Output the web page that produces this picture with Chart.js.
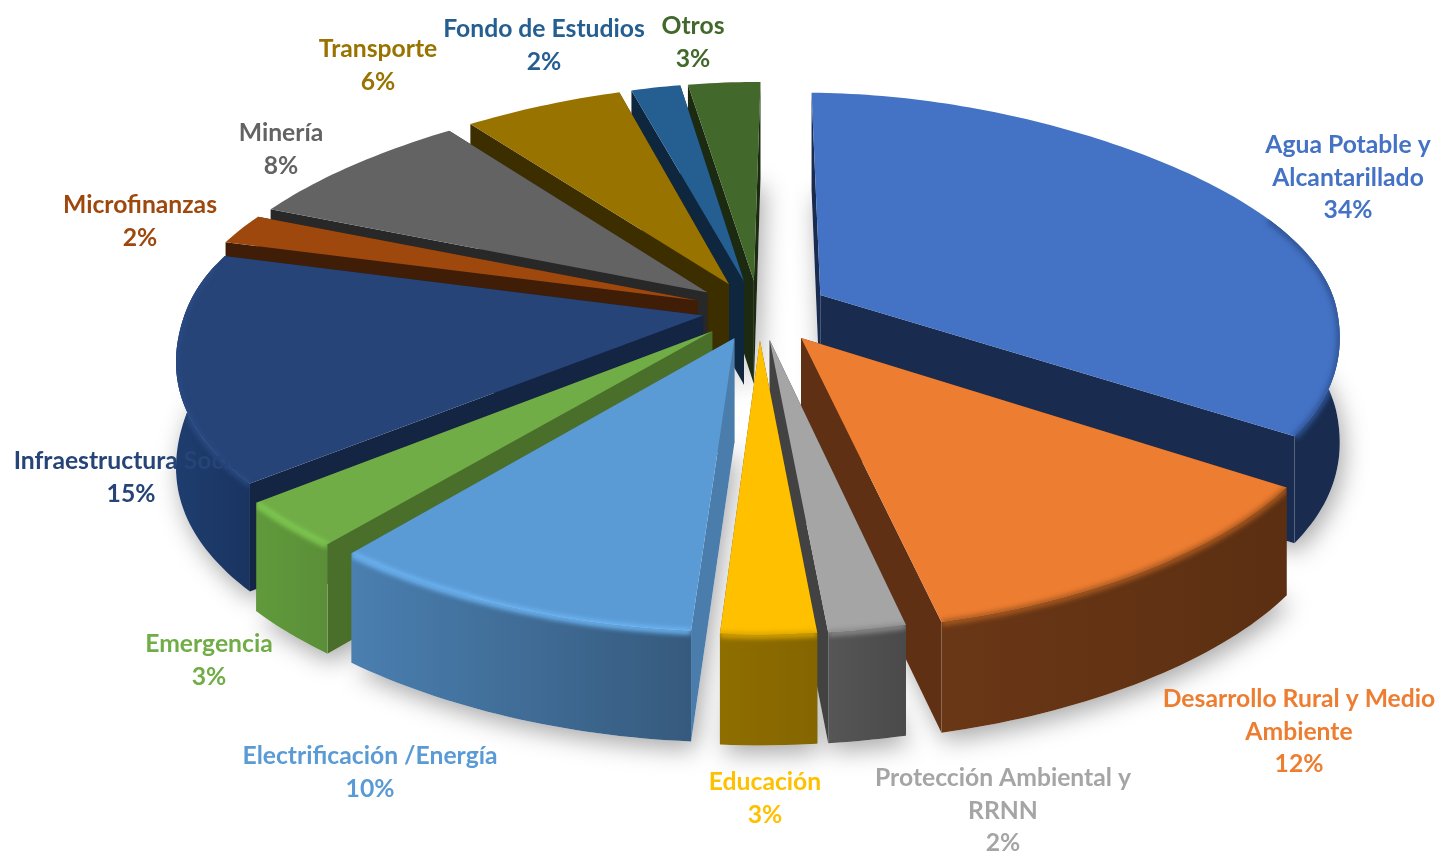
<!DOCTYPE html>
<html>
<head>
<meta charset="utf-8">
<title>Sectores</title>
<script src="https://cdn.jsdelivr.net/npm/chart.js@4"></script>
<style>
  html, body { margin: 0; padding: 0; background: #fff; overflow: hidden; }
  canvas { display: block; }
</style>
</head>
<body>
<canvas id="pie-chart" width="1441" height="854"></canvas>
<script>
// data
const categories = ['Agua Potable y\nAlcantarillado', 'Desarrollo Rural y Medio\nAmbiente', 'Protección Ambiental y\nRRNN', 'Educación', 'Electrificación /Energía', 'Emergencia', 'Infraestructura Social', 'Microfinanzas', 'Minería', 'Transporte', 'Fondo de Estudios', 'Otros'];
const shares = [34, 12, 2.1, 2.6, 10, 3, 15, 2, 8, 6, 2, 3];

// styles per slice
const explode = [54, 56, 50, 50, 50, 50, 44, 50, 50, 50, 50, 50];
const topColors = ['#4472C4', '#ED7D31', '#A5A5A5', '#FFC000', '#5B9BD5', '#70AD47', '#264478', '#9E480E', '#636363', '#997300', '#255E91', '#43682B'];
const wallColors = ['#192C50', '#5F3013', '#424242', '#665000', '#4A7DAB', '#4A6F2B', '#142443', '#3F1D06', '#282828', '#3D2E00', '#0F263F', '#1B2A11'];
const outerLeft = ['#192C50', '#6A3716', '#565656', '#8F6E00', '#4A7FB0', '#609A3C', '#1E3D6E', '#6E320A', '#454545', '#6B5000', '#1A4266', '#2F491E'];
const outerRight = ['#192C50', '#5C2F12', '#4A4A4A', '#846500', '#365A7D', '#5B8E38', '#1A3460', '#5E2B08', '#3C3C3C', '#5C4500', '#163957', '#283E19'];
const rimColors = ['#2F5597', '#A9591F', '#8A8A8A', '#D9A400', '#6DB6F5', '#80CC52', '#2A4A82', '#9E480E', '#636363', '#997300', '#255E91', '#43682B'];

// where the text goes: centre x, y of first line
const labelX = [1348, 1299, 1003, 765, 370, 209, 131, 140, 281, 378, 544, 693];
const labelY = [145, 699, 778, 782, 756, 644, 461, 205, 133, 49, 29, 26];

// view of the tilted disc
const view = { cx: 759, cy: 310, rx: 517, ry: 238, ky: 0.155, wall: 104 };

function project(u, v, h) {
    const sx = v < 0 ? 1 + 0.14 * v - 0.08 * v * v : 1 + 0.14 * v + 0.14 * v * v - 0.13 * v * v * v;
    const sy = 1 / (1 - view.ky * v);
    return {
        x: view.cx + view.rx * u * sx,
        y: view.cy + view.ry * v * sy + view.wall * h * (1 + 0.06 * v)
    };
}

function sliceGeometry(arc, index) {
    const mid = (arc.startAngle + arc.endAngle) / 2;
    const off = arc.options.offset / arc.outerRadius;
    return {
        index: index,
        a0: arc.startAngle,
        a1: arc.endAngle,
        mid: mid,
        ox: off * Math.cos(mid),
        oy: off * Math.sin(mid)
    };
}

function rimPoint(s, a, h) {
    return project(s.ox + Math.cos(a), s.oy + Math.sin(a), h);
}

function apexPoint(s, h) {
    return project(s.ox, s.oy, h);
}

function polygon(ctx, pts) {
    ctx.beginPath();
    pts.forEach((p, i) => i ? ctx.lineTo(p.x, p.y) : ctx.moveTo(p.x, p.y));
    ctx.closePath();
}

function arcPoints(s, a0, a1, h) {
    const steps = Math.max(2, Math.ceil((a1 - a0) / 0.02));
    const pts = [];
    for (let i = 0; i <= steps; i++) pts.push(rimPoint(s, a0 + (a1 - a0) * i / steps, h));
    return pts;
}

// part of the rim that faces the viewer
function frontRange(s) {
    const limitA = -0.35, limitB = Math.PI + 0.22;
    const ranges = [];
    [[limitA, limitB], [limitA + 2 * Math.PI, limitB + 2 * Math.PI]].forEach(r => {
        const lo = Math.max(s.a0, r[0]), hi = Math.min(s.a1, r[1]);
        if (hi > lo) ranges.push([lo, hi]);
    });
    return ranges;
}

function drawSlice(ctx, s) {
    const i = s.index;
    const top = [apexPoint(s, 0)].concat(arcPoints(s, s.a0, s.a1, 0));

    // radial walls
    ctx.fillStyle = wallColors[i];
    [s.a0, s.a1].forEach(a => {
        polygon(ctx, [apexPoint(s, 0), rimPoint(s, a, 0), rimPoint(s, a, 1), apexPoint(s, 1)]);
        ctx.fill();
    });

    // outer wall
    frontRange(s).forEach(r => {
        const up = arcPoints(s, r[0], r[1], 0);
        const down = arcPoints(s, r[0], r[1], 1).reverse();
        const xs = up.map(p => p.x);
        const grad = ctx.createLinearGradient(Math.min(...xs), 0, Math.max(...xs), 0);
        grad.addColorStop(0, outerLeft[i]);
        grad.addColorStop(1, outerRight[i]);
        ctx.fillStyle = grad;
        polygon(ctx, up.concat(down));
        ctx.fill();
    });

    // top face
    ctx.fillStyle = topColors[i];
    polygon(ctx, top);
    ctx.fill();

    // soft bevel along the front of the rim
    frontRange(s).forEach(r => {
        const up = arcPoints(s, r[0], r[1], 0);
        const down = arcPoints(s, r[0], r[1], 1).reverse();
        ctx.save();
        ctx.beginPath();
        top.forEach((p, n) => n ? ctx.lineTo(p.x, p.y) : ctx.moveTo(p.x, p.y));
        ctx.closePath();
        up.concat(down).forEach((p, n) => n ? ctx.lineTo(p.x, p.y) : ctx.moveTo(p.x, p.y));
        ctx.closePath();
        ctx.clip();
        ctx.filter = 'blur(2.5px)';
        ctx.strokeStyle = rimColors[i];
        ctx.lineWidth = 6;
        ctx.beginPath();
        up.forEach((p, n) => n ? ctx.lineTo(p.x, p.y + 1) : ctx.moveTo(p.x, p.y + 1));
        ctx.stroke();
        ctx.restore();
    });
}

const pie3d = {
    id: 'pie3d',
    beforeDatasetsDraw(chart) {
        const ctx = chart.ctx;
        const slices = chart.getDatasetMeta(0).data.map(sliceGeometry);
        ctx.save();

        // shadow on the floor
        slices.forEach(s => {
            ctx.save();
            ctx.shadowColor = 'rgba(0,0,0,0.34)';
            ctx.shadowBlur = 24;
            ctx.shadowOffsetX = 4;
            ctx.shadowOffsetY = 8;
            ctx.fillStyle = '#fff';
            polygon(ctx, [apexPoint(s, 1)].concat(arcPoints(s, s.a0, s.a1, 1)));
            ctx.fill();
            ctx.restore();
        });

        // back slices first
        slices.slice().sort((p, q) => Math.sin(p.mid) - Math.sin(q.mid)).forEach(s => drawSlice(ctx, s));
        ctx.restore();
        return false;
    },
    afterDraw(chart) {
        const ctx = chart.ctx;
        ctx.save();
        ctx.font = 'bold 24.7px Lato, "Open Sans", sans-serif';
        ctx.textAlign = 'center';
        ctx.textBaseline = 'middle';
        categories.forEach((name, i) => {
            const lines = name.split('\n').concat(Math.round(shares[i]) + '%');
            ctx.fillStyle = topColors[i];
            lines.forEach((line, n) => ctx.fillText(line, labelX[i], labelY[i] + n * 32.7));
        });
        ctx.restore();
    }
};

let pieChart = new Chart(document.getElementById('pie-chart').getContext('2d'), {
    type: 'pie',
    data: {
        labels: categories,
        datasets: [{
            data: shares,
            backgroundColor: topColors,
            borderWidth: 0,
            offset: explode
        }]
    },
    options: {
        responsive: false,
        animation: false,
        rotation: 0.8,
        plugins: { legend: { display: false }, tooltip: { enabled: false } }
    },
    plugins: [pie3d]
});
</script>
</body>
</html>
